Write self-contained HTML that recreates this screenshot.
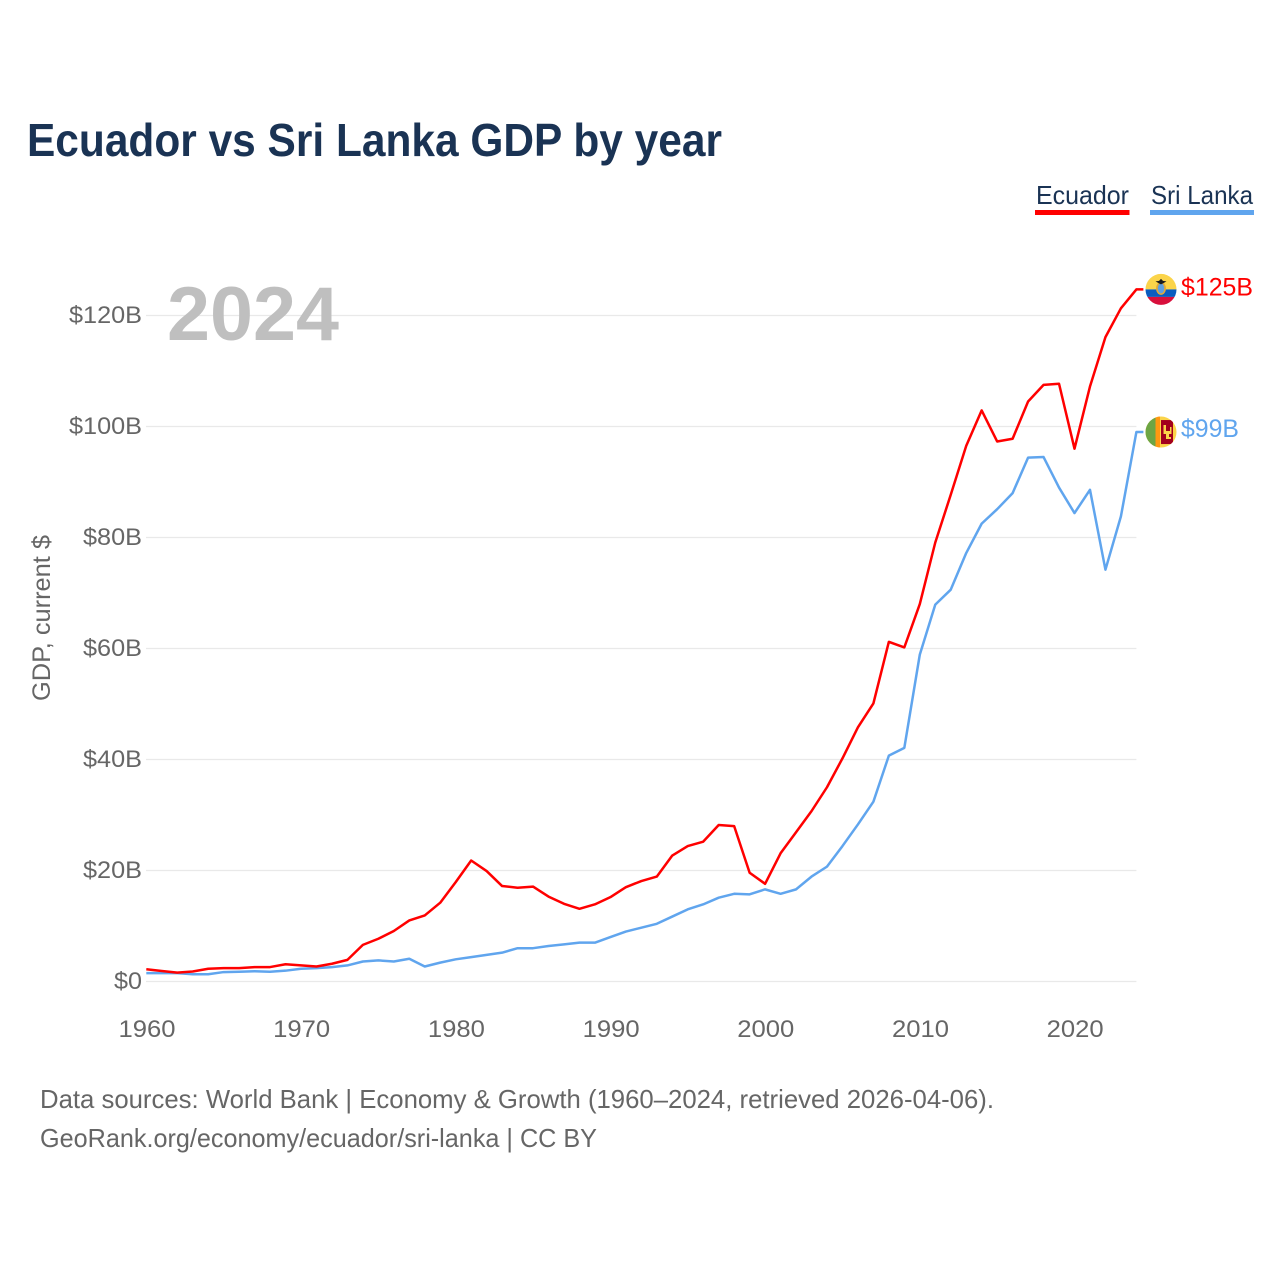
<!DOCTYPE html>
<html lang="en">
<head>
<meta charset="utf-8">
<title>Ecuador vs Sri Lanka GDP by year</title>
<style>
html,body{margin:0;padding:0;background:#fff;width:1280px;height:1280px;overflow:hidden}
svg{display:block}
text{font-family:"Liberation Sans",sans-serif}
.tick{fill:#666;font-size:24px}
.foot{fill:#666;font-size:26px}
.legend{fill:#1a3354;font-size:26px}
</style>
</head>
<body>
<svg id="chart" xmlns="http://www.w3.org/2000/svg" width="1280" height="1280" viewBox="0 0 1280 1280">
  <rect x="0" y="0" width="1280" height="1280" fill="#fff"/>
  <text x="27" y="156" font-size="46" font-weight="700" fill="#1a3354" textLength="695" lengthAdjust="spacingAndGlyphs">Ecuador vs Sri Lanka GDP by year</text>

  <g>
    <text class="legend" x="1036" y="204" textLength="93" lengthAdjust="spacingAndGlyphs">Ecuador</text>
    <rect x="1035" y="210" width="94.5" height="5" fill="#ff0000"/>
  </g>
  <g>
    <text class="legend" x="1151" y="204" textLength="102" lengthAdjust="spacingAndGlyphs">Sri Lanka</text>
    <rect x="1150" y="210" width="104" height="5" fill="#60a5ee"/>
  </g>

  <g id="grid"></g>
  <g id="yticks"></g>
  <g id="xticks"></g>

  <text id="yearLabel" x="167" y="340" font-size="76" font-weight="700" fill="#bfbfbf" textLength="172" lengthAdjust="spacingAndGlyphs"></text>

  <text transform="translate(50,618) rotate(-90)" text-anchor="middle" font-size="25" fill="#666" textLength="166" lengthAdjust="spacingAndGlyphs">GDP, current $</text>

  <g id="series"></g>

  <defs>
    <clipPath id="flagClipEc"><circle cx="0" cy="0" r="15.5"/></clipPath>
    <clipPath id="flagClipLk"><circle cx="0" cy="0" r="15.5"/></clipPath>
  </defs>
  <g id="flagEc">
    <g clip-path="url(#flagClipEc)">
      <rect x="-16" y="-16" width="32" height="16" fill="#fbd44a"/>
      <rect x="-16" y="0" width="32" height="7.5" fill="#0a5cc0"/>
      <rect x="-16" y="7.5" width="32" height="8.5" fill="#d80f3c"/>
      <ellipse cx="0" cy="-1" rx="5" ry="6.5" fill="#e0a83a"/>
      <ellipse cx="0" cy="-1" rx="3.2" ry="5" fill="#5f9fe0"/>
      <path d="M-5.5 -8 L-2 -8.5 L0 -10.5 L2 -8.5 L5.5 -8 L2 -6 L0 -5 L-2 -6 Z" fill="#1a1a1a"/>
    </g>
  </g>
  <g id="flagLk">
    <g clip-path="url(#flagClipLk)">
      <rect x="-16" y="-16" width="32" height="32" fill="#fbd44a"/>
      <rect x="-16" y="-16" width="10.5" height="32" fill="#6da544"/>
      <rect x="-5.5" y="-16" width="4.5" height="32" fill="#ff9811"/>
      <rect x="0" y="-12" width="12" height="24" fill="#a2001d"/>
      <path d="M2.5 -7 H5 V-1 H9 V-5 H10.5 V2 H8 V5 H10 V7 H5 V2 H2.5 Z" fill="#fbd44a"/>
    </g>
  </g>
  <text id="labelEc" x="1181" y="296" font-size="25" fill="#ff0000" textLength="72" lengthAdjust="spacingAndGlyphs"></text>
  <text id="labelLk" x="1181" y="437" font-size="25" fill="#60a5ee" textLength="58" lengthAdjust="spacingAndGlyphs"></text>

  <text class="foot" x="40" y="1108" textLength="954" lengthAdjust="spacingAndGlyphs">Data sources: World Bank | Economy &amp; Growth (1960–2024, retrieved 2026-04-06).</text>
  <text class="foot" x="40" y="1147" textLength="557" lengthAdjust="spacingAndGlyphs">GeoRank.org/economy/ecuador/sri-lanka | CC BY</text>
</svg>
<script>
const startYear = 1960;
const ecuadorValues = [2.2,1.9,1.6,1.8,2.3,2.4,2.4,2.6,2.6,3.1,2.9,2.7,3.2,3.9,6.6,7.7,9.1,11.0,11.9,14.2,17.9,21.8,19.9,17.2,16.9,17.1,15.3,14.0,13.1,13.9,15.2,17.0,18.1,18.9,22.7,24.4,25.2,28.2,28.0,19.6,17.6,23.1,26.9,30.7,35.0,40.2,45.8,50.1,61.2,60.2,68.0,79.1,87.7,96.5,102.9,97.3,97.8,104.5,107.5,107.7,96.0,107.2,116.1,121.3,124.7];
const sriLankaValues = [1.5,1.5,1.5,1.3,1.3,1.7,1.75,1.85,1.75,1.95,2.3,2.4,2.6,2.9,3.6,3.8,3.6,4.1,2.7,3.4,4.0,4.4,4.8,5.2,6.0,6.0,6.4,6.7,7.0,7.0,8.0,9.0,9.7,10.4,11.7,13.0,13.9,15.1,15.8,15.7,16.6,15.8,16.6,18.9,20.7,24.4,28.3,32.4,40.7,42.1,58.9,67.9,70.6,77.2,82.5,85.1,88.0,94.4,94.5,89.0,84.4,88.6,74.2,83.8,99.0];
const yTickValues = [0,20,40,60,80,100,120];
const xTickYears = [1960,1970,1980,1990,2000,2010,2020];

const NS = 'http://www.w3.org/2000/svg';
const xScale = year => 146.3 + (year - 1960) * 15.47;
const yScale = value => 981.5 - value * (981.5 - 315.5) / 120;
const lastYear = startYear + ecuadorValues.length - 1;
const plotRight = xScale(lastYear);

function make(tag, attrs, parent) {
  const el = document.createElementNS(NS, tag);
  for (const key in attrs) el.setAttribute(key, attrs[key]);
  parent.appendChild(el);
  return el;
}

const gridGroup = document.getElementById('grid');
const yGroup = document.getElementById('yticks');
yTickValues.forEach(v => {
  const line = make('line', {x1: 146, x2: plotRight, y1: yScale(v), y2: yScale(v), stroke: '#e9e9e9', 'stroke-width': 1.2}, gridGroup);
  
  
  const label = '$' + v + (v === 0 ? '' : 'B');
  const width = label.length === 2 ? 28 : label.length === 4 ? 59 : 73;
  const t = make('text', {class: 'tick', x: 142, y: yScale(v) + 7.5, 'text-anchor': 'end', textLength: width, lengthAdjust: 'spacingAndGlyphs'}, yGroup);
  t.textContent = label;
  
  
});

const xGroup = document.getElementById('xticks');
xTickYears.forEach(year => {
  const t = make('text', {class: 'tick', x: xScale(year) + 0.7, y: 1037, 'text-anchor': 'middle', textLength: 57, lengthAdjust: 'spacingAndGlyphs'}, xGroup);
  t.textContent = String(year);
  
  
});

function drawSeries(values, color) {
  const pts = values.map((v, i) => xScale(startYear + i).toFixed(2) + ',' + yScale(v).toFixed(2));
  const endY = yScale(values[values.length - 1]);
  pts.push((plotRight + 7).toFixed(2) + ',' + endY.toFixed(2));
  return make('polyline', {points: pts.join(' '), fill: 'none', stroke: color, 'stroke-width': 2.5, 'stroke-linejoin': 'round'}, document.getElementById('series'));
}
const sriLankaLine = drawSeries(sriLankaValues, '#60a5ee');


const ecuadorLine = drawSeries(ecuadorValues, '#ff0000');



const lastEc = ecuadorValues[ecuadorValues.length - 1];
const lastLk = sriLankaValues[sriLankaValues.length - 1];
document.getElementById('yearLabel').textContent = String(lastYear);
document.getElementById('labelEc').textContent = '$' + Math.round(lastEc) + 'B';
document.getElementById('labelEc').setAttribute('y', yScale(lastEc) + 6);
document.getElementById('labelLk').textContent = '$' + Math.round(lastLk) + 'B';
document.getElementById('labelLk').setAttribute('y', yScale(lastLk) + 5);
document.getElementById('flagEc').setAttribute('transform', 'translate(1161,' + yScale(lastEc) + ')');
document.getElementById('flagLk').setAttribute('transform', 'translate(1161,' + yScale(lastLk) + ')');
</script>
</body>
</html>
